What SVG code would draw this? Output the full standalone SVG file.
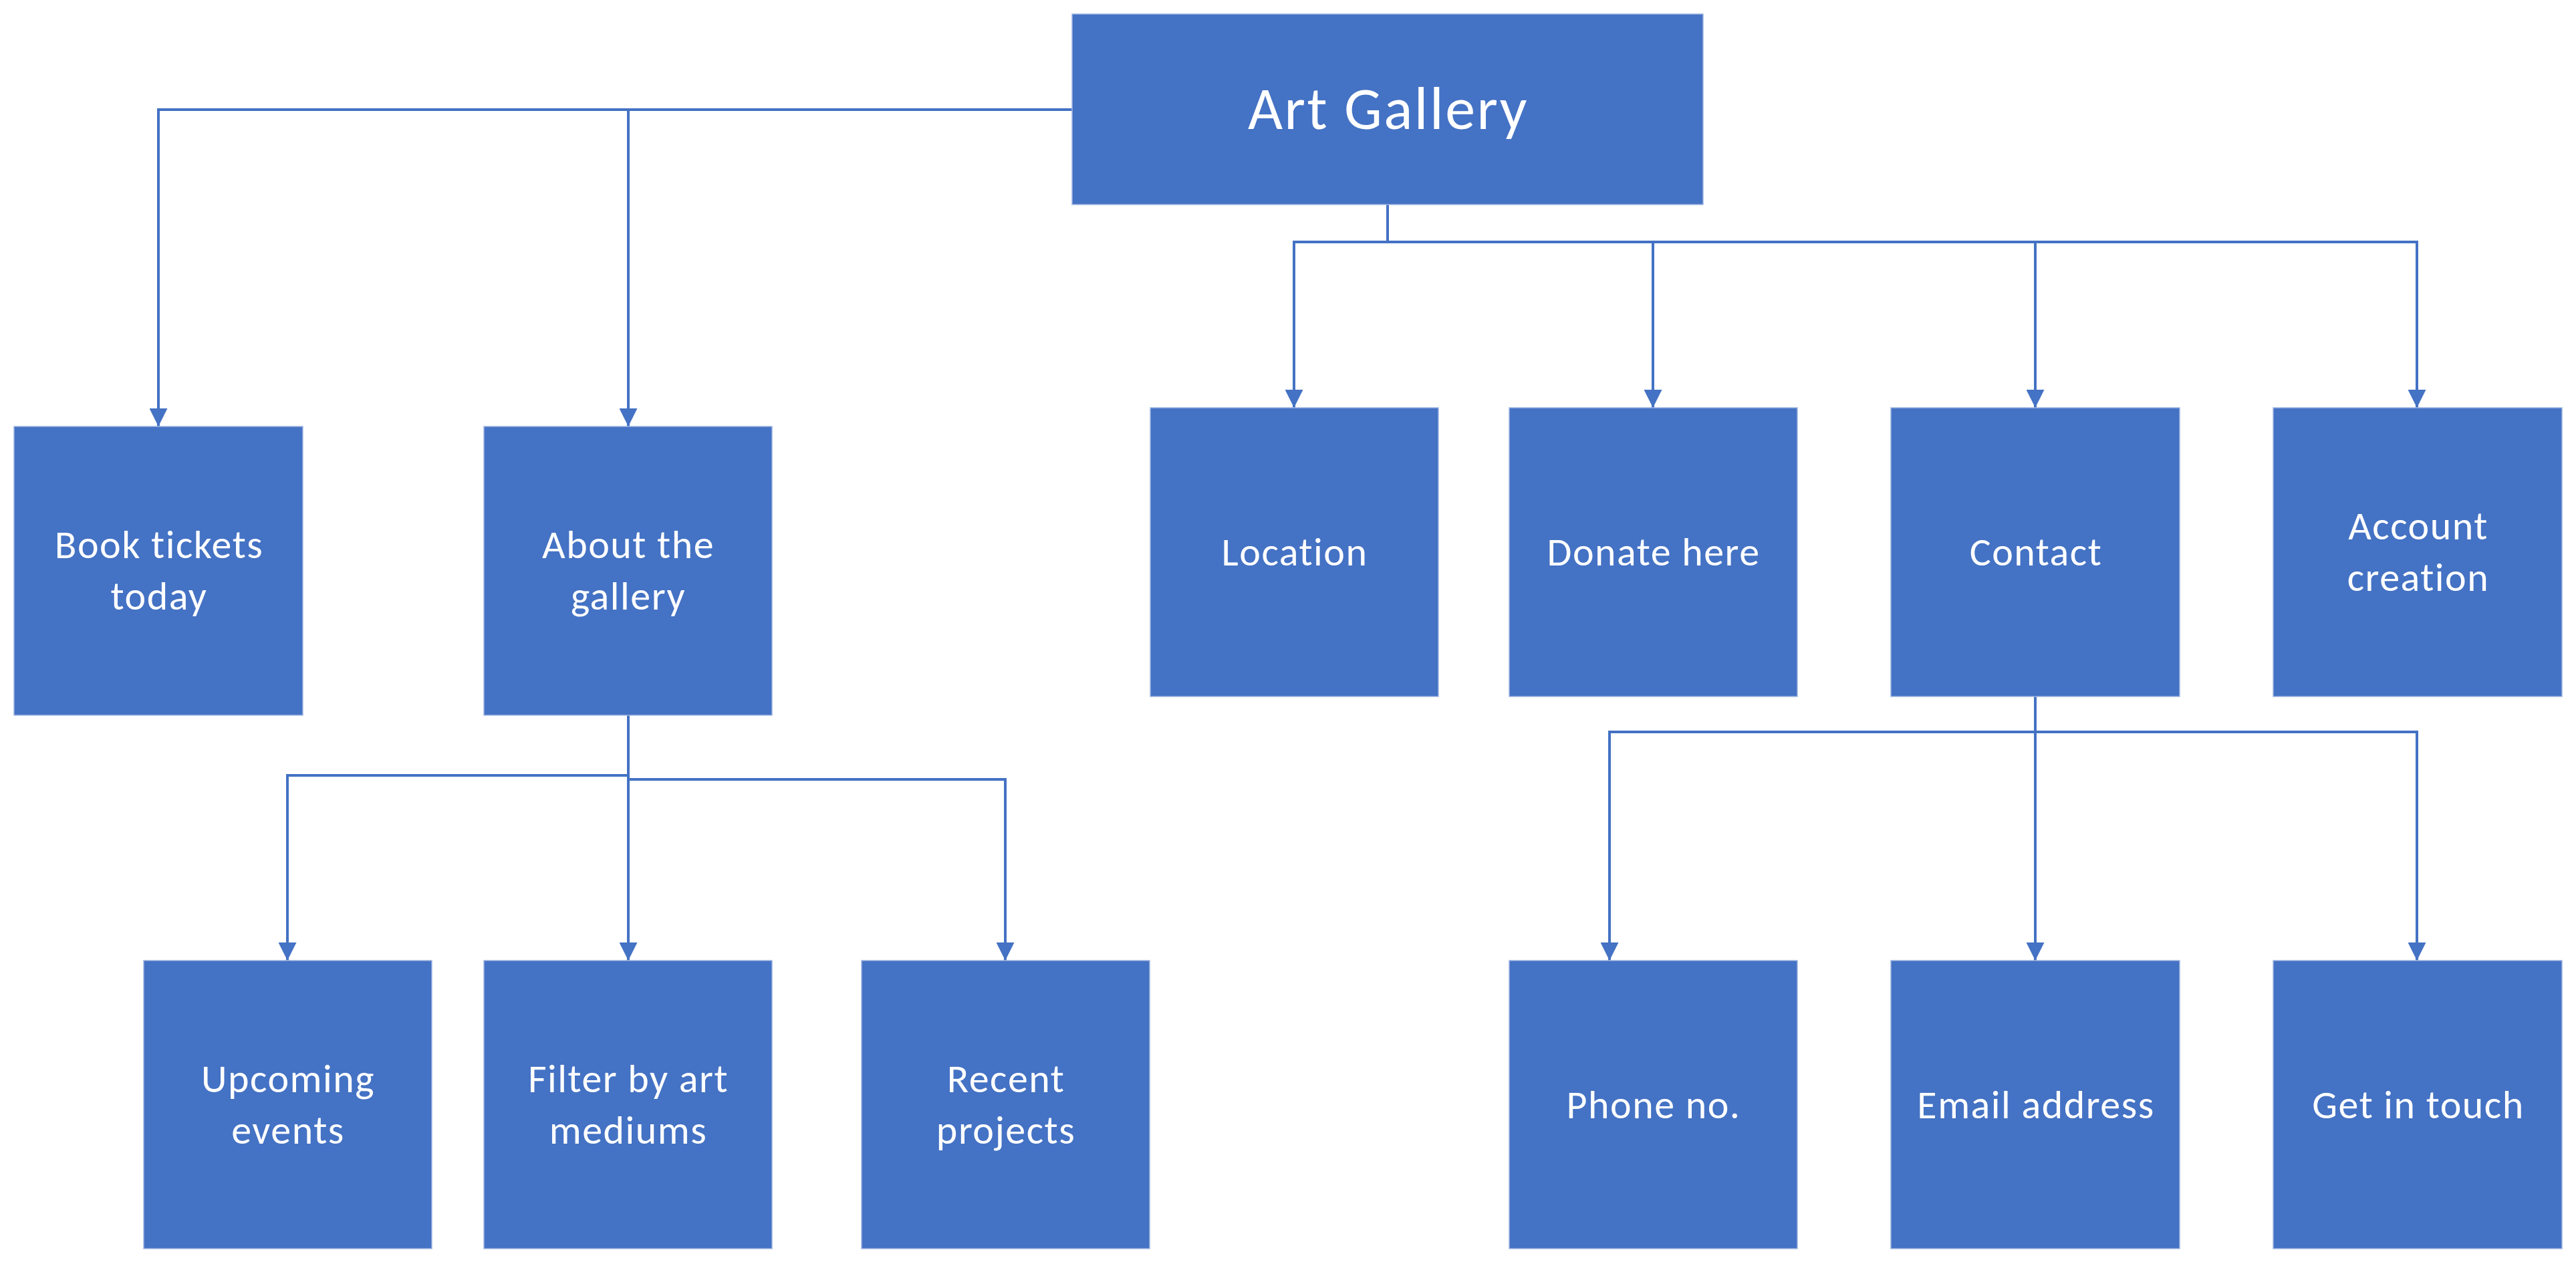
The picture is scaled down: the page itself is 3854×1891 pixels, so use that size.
<svg xmlns="http://www.w3.org/2000/svg" width="3854" height="1891" viewBox="0 0 3854 1891">
<style>
.box{fill:#4472C4;stroke:#9fb5e1;stroke-width:1.5}
.lbl{fill:#ffffff;font-family:Carlito,Calibri,Lato,"Liberation Sans",sans-serif;font-size:60px;letter-spacing:1.5px;text-anchor:middle}
.title{font-size:90px;letter-spacing:2.5px}
.con{fill:none;stroke:#4472C4;stroke-width:4;marker-end:url(#arr)}
</style>
<defs>
<marker id="arr" markerUnits="userSpaceOnUse" markerWidth="27" markerHeight="27" refX="27" refY="13.5" orient="auto" viewBox="0 0 27 27">
<path d="M0,0 L27,13.5 L0,27 z" fill="#4472C4"/>
</marker>
</defs>
<rect width="3854" height="1891" fill="#ffffff"/>
<g id="connectors">
<path class="con" d="M1604,164 H237 V638"/>
<path class="con" d="M940,164 V638"/>
<path class="con" d="M2076,306 V362 H1936 V610"/>
<path class="con" d="M2076,362 H2473 V610"/>
<path class="con" d="M2473,362 H3045 V610"/>
<path class="con" d="M3045,362 H3616 V610"/>
<path class="con" d="M940,1070 V1160 H430 V1437"/>
<path class="con" d="M940,1070 V1437"/>
<path class="con" d="M940,1166 H1504 V1437"/>
<path class="con" d="M3045,1042 V1095 H2408 V1437"/>
<path class="con" d="M3045,1042 V1437"/>
<path class="con" d="M3045,1095 H3616 V1437"/>
</g>
<g id="root"><rect class="box" x="1604" y="21" width="944" height="285"/><text class="lbl title" x="2077" y="193">Art Gallery</text></g>
<g id="book"><rect class="box" x="21" y="638" width="432" height="432"/><text class="lbl" x="238" y="835">Book tickets</text><text class="lbl" x="238" y="912">today</text></g>
<g id="about"><rect class="box" x="724" y="638" width="431" height="432"/><text class="lbl" x="940" y="835">About the</text><text class="lbl" x="940" y="912">gallery</text></g>
<g id="location"><rect class="box" x="1721" y="610" width="431" height="432"/><text class="lbl" x="1937" y="846">Location</text></g>
<g id="donate"><rect class="box" x="2258" y="610" width="431" height="432"/><text class="lbl" x="2474" y="846">Donate here</text></g>
<g id="contact"><rect class="box" x="2829" y="610" width="432" height="432"/><text class="lbl" x="3046" y="846">Contact</text></g>
<g id="account"><rect class="box" x="3401" y="610" width="432" height="432"/><text class="lbl" x="3618" y="807">Account</text><text class="lbl" x="3618" y="884">creation</text></g>
<g id="upcoming"><rect class="box" x="215" y="1437" width="431" height="431"/><text class="lbl" x="431" y="1634">Upcoming</text><text class="lbl" x="431" y="1711">events</text></g>
<g id="filter"><rect class="box" x="724" y="1437" width="431" height="431"/><text class="lbl" x="940" y="1634">Filter by art</text><text class="lbl" x="940" y="1711">mediums</text></g>
<g id="recent"><rect class="box" x="1289" y="1437" width="431" height="431"/><text class="lbl" x="1505" y="1634">Recent</text><text class="lbl" x="1505" y="1711">projects</text></g>
<g id="phone"><rect class="box" x="2258" y="1437" width="431" height="431"/><text class="lbl" x="2474" y="1673">Phone no.</text></g>
<g id="email"><rect class="box" x="2829" y="1437" width="432" height="431"/><text class="lbl" x="3046" y="1673">Email address</text></g>
<g id="touch"><rect class="box" x="3401" y="1437" width="432" height="431"/><text class="lbl" x="3618" y="1673">Get in touch</text></g>
</svg>
